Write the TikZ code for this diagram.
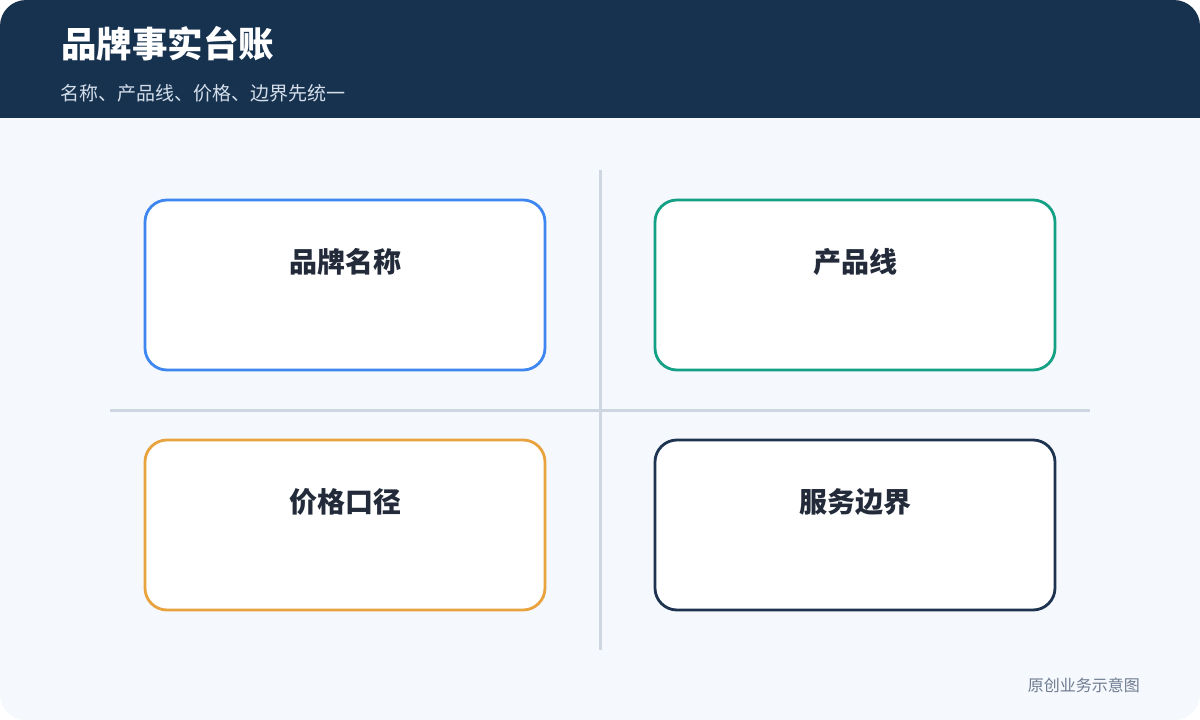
\documentclass[tikz,border=0pt]{standalone}
\usepackage{fontspec}
\newfontfamily\cjk{Noto Sans CJK SC}
\usetikzlibrary{positioning}

\definecolor{headbg}{HTML}{17324F}
\definecolor{pagebg}{HTML}{F5F8FC}
\definecolor{subtext}{HTML}{D3DEEA}
\definecolor{gridline}{HTML}{CDD6E1}
\definecolor{labeltext}{HTML}{232B3A}
\definecolor{notetext}{HTML}{6E7C91}
\definecolor{cblue}{HTML}{3E86F0}
\definecolor{cteal}{HTML}{14A085}
\definecolor{corange}{HTML}{E8A33E}
\definecolor{cnavy}{HTML}{1D3350}

\tikzset{
  factbox/.style={draw=#1, line width=2.8pt, fill=white, rounded corners=22pt,
    minimum width=400pt, minimum height=170pt, inner sep=0pt},
  factlabel/.style={font=\cjk\bfseries\fontsize{28}{32}\selectfont, text=labeltext,
    inner sep=0pt},
  divider/.style={draw=gridline, line width=3pt}
}

\begin{document}
\begin{tikzpicture}[x=1pt,y=-1pt]

  %% canvas
  \useasboundingbox (0,0) rectangle (1200,720);
  \fill[white] (0,0) rectangle (1200,720);
  \fill[pagebg, rounded corners=26pt] (0,0) rectangle (1200,720);
  \begin{scope}
    \clip[rounded corners=26pt] (0,0) rectangle (1200,720);
    \fill[headbg] (0,0) rectangle (1200,118);
  \end{scope}

  %% header
  \node[anchor=west, inner sep=0pt, text=white,
    font=\cjk\bfseries\fontsize{35.5}{40}\selectfont] (title) at (61,44) {品牌事实台账};
  \node[anchor=west, inner sep=0pt, text=subtext,
    font=\cjk\fontsize{19}{23}\selectfont] (subtitle) at (60,93) {名称、产品线、价格、边界先统一};

  %% dividers
  \coordinate (vtop) at (600,170);
  \coordinate (vbot) at (600,650);
  \coordinate (hleft) at (110,410);
  \coordinate (hright) at (1090,410);
  \draw[divider] (vtop) -- (vbot);
  \draw[divider] (hleft) -- (hright);

  %% boxes
  \node[factbox=cblue] (name) at (345,285) {};
  \node[factbox=cteal] (line) at (855,285) {};
  \node[factbox=corange] (price) at (345,525) {};
  \node[factbox=cnavy] (scope) at (855,525) {};

  %% labels
  \node[factlabel, below=63pt of name.north, anchor=center] (namelbl) {品牌名称};
  \node[factlabel, below=63pt of line.north, anchor=center] (linelbl) {产品线};
  \node[factlabel, below=63pt of price.north, anchor=center] (pricelbl) {价格口径};
  \node[factlabel, below=63pt of scope.north, anchor=center] (scopelbl) {服务边界};

  %% note
  \node[anchor=east, inner sep=0pt, text=notetext,
    font=\cjk\fontsize{16}{19}\selectfont] (note) at (1140,685) {原创业务示意图};

\end{tikzpicture}
\end{document}
